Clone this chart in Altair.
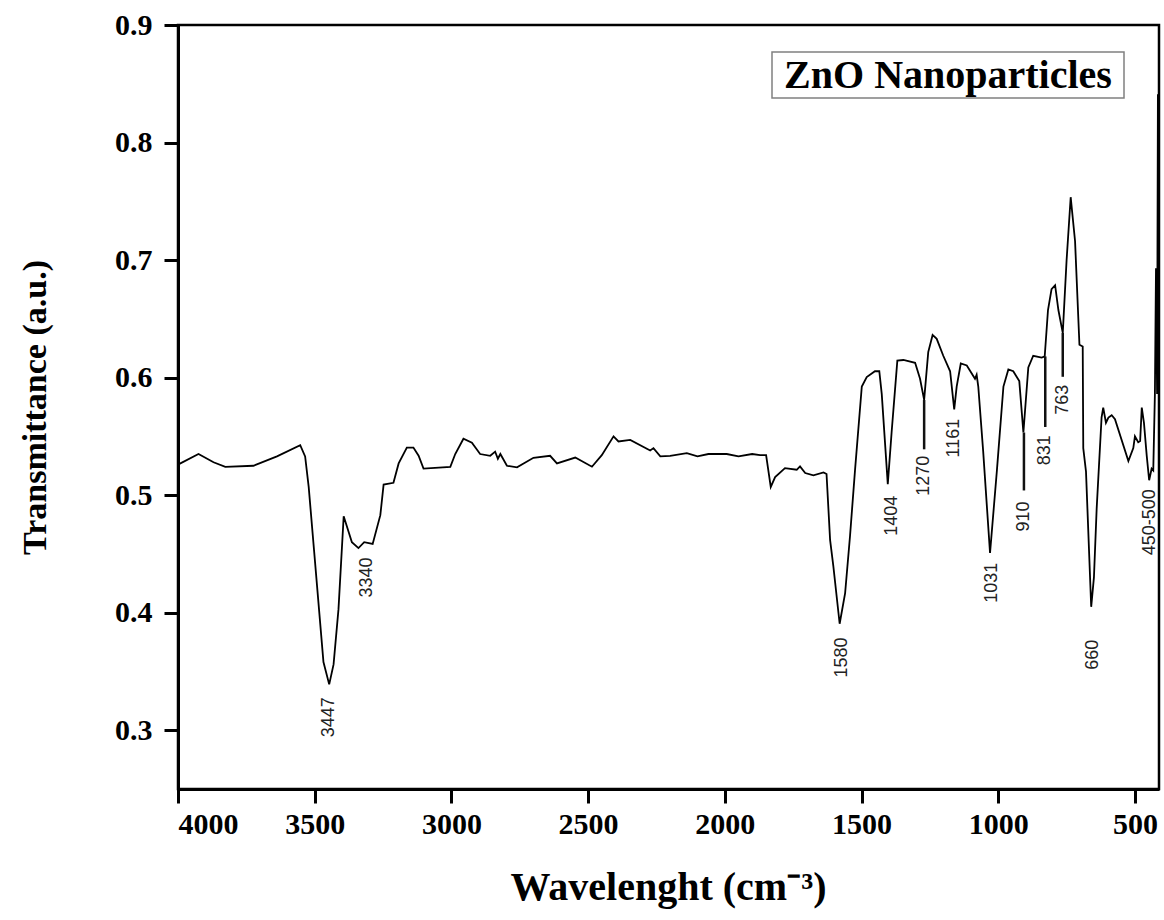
import altair as alt
import pandas as pd

# Spectrum (wavenumber cm^-1, transmittance a.u.)
wn = [4000, 3925, 3870, 3827, 3724, 3638, 3553, 3535, 3522, 3502, 3468, 3447, 3431, 3413, 3394,
      3364, 3340, 3319, 3288, 3260, 3248, 3212, 3193, 3163, 3139, 3120, 3102, 3004, 2986, 2956,
      2925, 2895, 2858, 2840, 2830, 2821, 2797, 2760, 2700, 2639, 2614, 2547, 2486, 2450, 2407,
      2389, 2346, 2273, 2261, 2236, 2200, 2139, 2100, 2060, 1993, 1950, 1900, 1871, 1849, 1832,
      1816, 1780, 1737, 1725, 1706, 1676, 1639, 1628, 1615, 1603, 1580, 1560, 1542, 1524, 1499,
      1481, 1451, 1435, 1426, 1404, 1390, 1369, 1347, 1304, 1286, 1271, 1256, 1240, 1225, 1201,
      1176, 1161, 1152, 1137, 1115, 1085, 1079, 1073, 1055, 1030, 1005, 981, 963, 945, 923,
      908, 890, 872, 841, 830, 818, 805, 792, 780, 764, 750, 735, 719, 703, 691,
      689, 679, 660, 650, 640, 622, 616, 606, 597, 585, 573, 524, 506, 500, 488,
      481, 475, 467, 457, 448, 439, 433, 427, 423, 419, 416, 414]
tr = [0.526, 0.535, 0.528, 0.524, 0.525, 0.533, 0.5425, 0.533, 0.507, 0.452, 0.358, 0.339, 0.356, 0.403, 0.482,
      0.460, 0.455, 0.460, 0.4585, 0.483, 0.509, 0.5105, 0.527, 0.5405, 0.5405, 0.5335, 0.5226, 0.524, 0.535, 0.548,
      0.5447, 0.535, 0.5335, 0.537, 0.531, 0.535, 0.525, 0.5237, 0.5318, 0.5335, 0.527, 0.532, 0.5242, 0.534, 0.550,
      0.5457, 0.547, 0.538, 0.540, 0.533, 0.5335, 0.5358, 0.533, 0.535, 0.535, 0.533, 0.535, 0.534, 0.534, 0.507,
      0.5154, 0.523, 0.5216, 0.5245, 0.5188, 0.5168, 0.5193, 0.518, 0.462, 0.4395, 0.3906, 0.4167, 0.4655, 0.5207, 0.5924,
      0.6005, 0.6054, 0.6054, 0.5859, 0.5094, 0.5533, 0.6145, 0.615, 0.6126, 0.599, 0.581, 0.6217, 0.6363, 0.633, 0.6186,
      0.6054, 0.5729, 0.5924, 0.612, 0.6103, 0.599, 0.6024, 0.5924, 0.537, 0.4508, 0.5207, 0.5924, 0.607, 0.6054, 0.597,
      0.5533, 0.6087, 0.6186, 0.6171, 0.618, 0.6575, 0.6753, 0.6786, 0.6575, 0.638, 0.6998, 0.7535, 0.716, 0.628, 0.6265,
      0.540, 0.520, 0.405, 0.43, 0.4885, 0.5663, 0.5745, 0.5616, 0.566, 0.568, 0.5647, 0.529, 0.540, 0.550, 0.545,
      0.546, 0.5745, 0.5615, 0.5338, 0.5127, 0.5225, 0.521, 0.586, 0.693, 0.586, 0.841, 0.586]

# Peak annotations
peak_text = ["3447", "3340", "1580", "1404", "1270", "1161", "1031", "910", "831", "763", "660", "450-500"]
peak_wn = [3447, 3310, 1572, 1390, 1271, 1161, 1024, 906, 828, 764, 653, 444]
peak_top = [0.328, 0.447, 0.379, 0.4995, 0.5335, 0.565, 0.4425, 0.4947, 0.551, 0.594, 0.377, 0.505]

# Leader lines
lead_wn = [1271, 906, 828, 764]
lead_from = [0.581, 0.5533, 0.618, 0.638]
lead_to = [0.539, 0.504, 0.558, 0.6007]

x_ticks = [4000, 3500, 3000, 2500, 2000, 1500, 1000, 500]
y_ticks = [0.3, 0.4, 0.5, 0.6, 0.7, 0.8, 0.9]

spec = pd.DataFrame({"wn": wn, "tr": tr})
peaks = pd.DataFrame({"wn": peak_wn, "top": peak_top, "label": peak_text})
leads = pd.DataFrame({"wn": lead_wn, "y1": lead_from, "y2": lead_to})

W, H = 981, 764

xscale = alt.Scale(domain=[412, 4000], reverse=True, nice=False, zero=False)
yscale = alt.Scale(domain=[0.25, 0.9], nice=False, zero=False)

xaxis = alt.Axis(values=x_ticks, format="d", title="Wavelenght (cm\u207B\u00B3)",
                 titleX=490, titleY=98, titleBaseline="middle", titleAlign="center",
                 titleFontSize=40, labelPadding=6, grid=False)
yaxis = alt.Axis(values=y_ticks, format=".1f", title="Transmittance (a.u.)",
                 titleX=-143, titleY=382, titleBaseline="middle", titleAlign="center",
                 titleAngle=270, titleFontSize=34, labelPadding=12, grid=False)

line = alt.Chart(spec).mark_line(color="black", strokeWidth=1.8).encode(
    x=alt.X("wn:Q", scale=xscale, axis=xaxis),
    y=alt.Y("tr:Q", scale=yscale, axis=yaxis),
    order="ord:Q",
).transform_window(ord="row_number()")

rules = alt.Chart(leads).mark_rule(color="#111", strokeWidth=2.5).encode(
    x=alt.X("wn:Q", scale=xscale),
    y=alt.Y("y1:Q", scale=yscale),
    y2="y2:Q",
)

labels = alt.Chart(peaks).mark_text(
    angle=270, align="right", baseline="middle", font="Liberation Sans",
    fontSize=18, color="#222"
).encode(
    x=alt.X("wn:Q", scale=xscale),
    y=alt.Y("top:Q", scale=yscale),
    text="label:N",
)

box = alt.Chart(pd.DataFrame({"a": [1]})).mark_rect(
    fill="white", stroke="#808080", strokeWidth=1.5
).encode(
    x=alt.value(594), x2=alt.value(946), y=alt.value(27), y2=alt.value(73)
)

box_text = alt.Chart(pd.DataFrame({"t": ["ZnO Nanoparticles"]})).mark_text(
    font="Liberation Serif", fontWeight="bold", fontSize=40, color="black",
    align="center", baseline="middle"
).encode(
    x=alt.value(770), y=alt.value(51), text="t:N"
)

chart = alt.layer(line, rules, labels, box, box_text).properties(
    width=W, height=H,
    autosize=alt.AutoSizeParams(type="none"),
    padding={"left": 178, "top": 25, "right": 5, "bottom": 131},
    background="white",
).configure_view(
    stroke="black", strokeWidth=2.5
).configure_axis(
    domainColor="black", domainWidth=3, tickColor="black", tickWidth=3, tickSize=14,
    labelFont="Liberation Serif", labelFontWeight="bold", labelFontSize=30, labelColor="black",
    titleFont="Liberation Serif", titleFontWeight="bold", titleColor="black",
)

chart.save("out.html", embed_options={"renderer": "svg", "actions": False})
